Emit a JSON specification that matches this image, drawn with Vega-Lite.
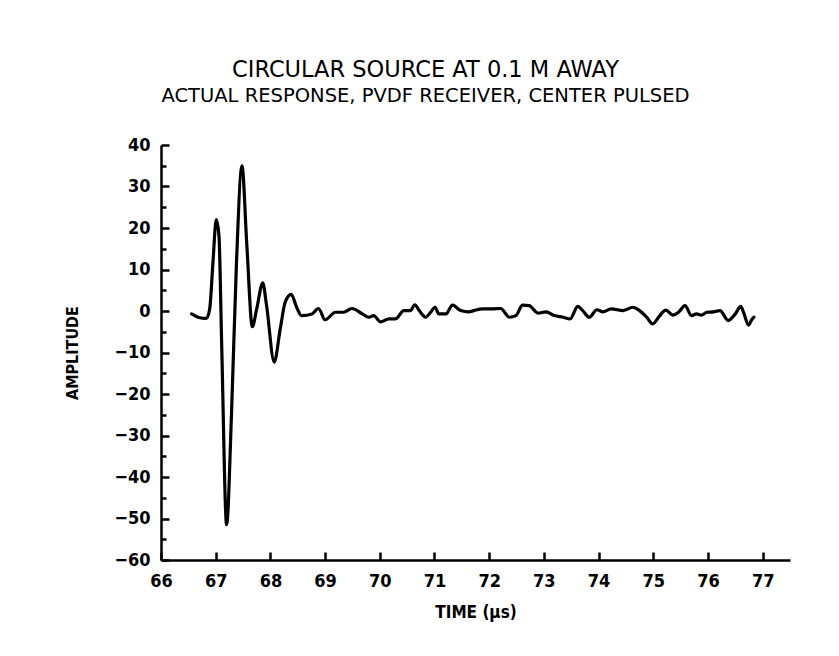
{
  "$schema": "https://vega.github.io/schema/vega-lite/v6.json",
  "width": 629,
  "height": 415,
  "autosize": {"type": "none"},
  "padding": {"left": 161, "top": 145, "right": 49, "bottom": 96},
  "background": "white",
  "config": {
    "view": {"stroke": null},
    "font": "DejaVu Sans Condensed",
    "axis": {
      "domainColor": "black",
      "domainWidth": 2.5,
      "tickColor": "black",
      "tickWidth": 2.5,
      "labelColor": "black",
      "titleColor": "black",
      "labelFont": "DejaVu Sans Condensed",
      "titleFont": "DejaVu Sans Condensed",
      "labelFontSize": 18,
      "labelFontWeight": "bold",
      "grid": false,
      "labelOverlap": false,
      "labelBound": false,
      "labelFlush": false
    }
  },
  "title": {
    "text": "CIRCULAR SOURCE AT 0.1 M AWAY",
    "subtitle": "ACTUAL RESPONSE, PVDF RECEIVER, CENTER PULSED",
    "anchor": "middle",
    "dx": -50,
    "font": "DejaVu Sans",
    "subtitleFont": "DejaVu Sans",
    "fontSize": 22.5,
    "subtitleFontSize": 19.5,
    "fontWeight": "normal",
    "subtitleFontWeight": "normal",
    "color": "black",
    "subtitleColor": "black",
    "offset": 31,
    "subtitlePadding": 5
  },
  "data": {
    "values": [
      {"t": 66.56, "a": -0.7}, {"t": 66.68, "a": -1.5}, {"t": 66.83, "a": -1.8}, {"t": 66.89, "a": 0.5},
      {"t": 66.95, "a": 11.7}, {"t": 67.01, "a": 22.0}, {"t": 67.06, "a": 18.1}, {"t": 67.11, "a": -8.4},
      {"t": 67.2, "a": -51.5}, {"t": 67.29, "a": -24.4}, {"t": 67.38, "a": 11.7}, {"t": 67.48, "a": 35.0},
      {"t": 67.57, "a": 15.7}, {"t": 67.67, "a": -3.8}, {"t": 67.75, "a": 0.5}, {"t": 67.86, "a": 6.8},
      {"t": 67.93, "a": 1.3}, {"t": 68.07, "a": -12.3}, {"t": 68.18, "a": -4.3}, {"t": 68.27, "a": 2.1},
      {"t": 68.38, "a": 4.0}, {"t": 68.48, "a": 0.9}, {"t": 68.57, "a": -1.1}, {"t": 68.76, "a": -0.7},
      {"t": 68.88, "a": 0.6}, {"t": 69.0, "a": -2.1}, {"t": 69.19, "a": -0.3}, {"t": 69.34, "a": -0.3},
      {"t": 69.49, "a": 0.6}, {"t": 69.68, "a": -0.7}, {"t": 69.8, "a": -1.5}, {"t": 69.89, "a": -1.1},
      {"t": 70.01, "a": -2.6}, {"t": 70.17, "a": -1.9}, {"t": 70.29, "a": -1.9}, {"t": 70.44, "a": 0.1},
      {"t": 70.56, "a": 0.1}, {"t": 70.64, "a": 1.5}, {"t": 70.72, "a": 0.1}, {"t": 70.84, "a": -1.5},
      {"t": 70.93, "a": -0.3}, {"t": 71.01, "a": 0.9}, {"t": 71.08, "a": -0.7}, {"t": 71.21, "a": -0.7},
      {"t": 71.33, "a": 1.4}, {"t": 71.48, "a": 0.1}, {"t": 71.63, "a": -0.2}, {"t": 71.72, "a": 0.1},
      {"t": 71.88, "a": 0.5}, {"t": 72.06, "a": 0.5}, {"t": 72.21, "a": 0.6}, {"t": 72.37, "a": -1.5},
      {"t": 72.49, "a": -1.1}, {"t": 72.61, "a": 1.4}, {"t": 72.73, "a": 1.3}, {"t": 72.89, "a": -0.5},
      {"t": 73.04, "a": -0.2}, {"t": 73.19, "a": -1.1}, {"t": 73.35, "a": -1.5}, {"t": 73.48, "a": -1.9},
      {"t": 73.62, "a": 1.1}, {"t": 73.71, "a": 0.1}, {"t": 73.83, "a": -1.5}, {"t": 73.97, "a": 0.3},
      {"t": 74.08, "a": -0.2}, {"t": 74.23, "a": 0.5}, {"t": 74.45, "a": 0.1}, {"t": 74.63, "a": 0.9},
      {"t": 74.75, "a": 0.1}, {"t": 74.88, "a": -1.5}, {"t": 74.99, "a": -3.1}, {"t": 75.12, "a": -1.1},
      {"t": 75.23, "a": 0.2}, {"t": 75.36, "a": -1.0}, {"t": 75.46, "a": -0.3}, {"t": 75.58, "a": 1.3},
      {"t": 75.7, "a": -1.1}, {"t": 75.79, "a": -0.7}, {"t": 75.88, "a": -1.0}, {"t": 75.98, "a": -0.3},
      {"t": 76.1, "a": -0.2}, {"t": 76.22, "a": 0.1}, {"t": 76.37, "a": -2.3}, {"t": 76.5, "a": -0.7},
      {"t": 76.6, "a": 1.1}, {"t": 76.66, "a": -0.7}, {"t": 76.74, "a": -3.4}, {"t": 76.8, "a": -2.1},
      {"t": 76.84, "a": -1.5}
    ]
  },
  "mark": {"type": "line", "color": "black", "strokeWidth": 3.2, "strokeJoin": "round", "strokeCap": "round", "interpolate": "monotone"},
  "encoding": {
    "x": {
      "field": "t",
      "type": "quantitative",
      "scale": {"domain": [66, 77.5], "nice": false, "zero": false},
      "axis": {
        "title": "TIME (µs)",
        "titleFontSize": 17,
        "titleFontWeight": "bold",
        "titlePadding": 14,
        "format": "d",
        "values": [66, 66.5, 67, 67.5, 68, 68.5, 69, 69.5, 70, 70.5, 71, 71.5, 72, 72.5, 73, 73.5, 74, 74.5, 75, 75.5, 76, 76.5, 77, 77.5],
        "labelExpr": "datum.value % 1 === 0 ? datum.label : ''",
        "tickSize": {"condition": {"test": "datum.value % 1 === 0", "value": -8}, "value": -5},
        "labelPadding": 20
      }
    },
    "y": {
      "field": "a",
      "type": "quantitative",
      "scale": {"domain": [-60, 40], "nice": false, "zero": false},
      "axis": {
        "title": "AMPLITUDE",
        "titleFontSize": 16,
        "titleFontWeight": "bold",
        "titlePadding": 33,
        "format": "d",
        "values": [-60, -55, -50, -45, -40, -35, -30, -25, -20, -15, -10, -5, 0, 5, 10, 15, 20, 25, 30, 35, 40],
        "labelExpr": "datum.value % 10 === 0 ? datum.label : ''",
        "tickSize": {"condition": {"test": "datum.value % 10 === 0", "value": -8}, "value": -5},
        "labelPadding": 19
      }
    }
  }
}
